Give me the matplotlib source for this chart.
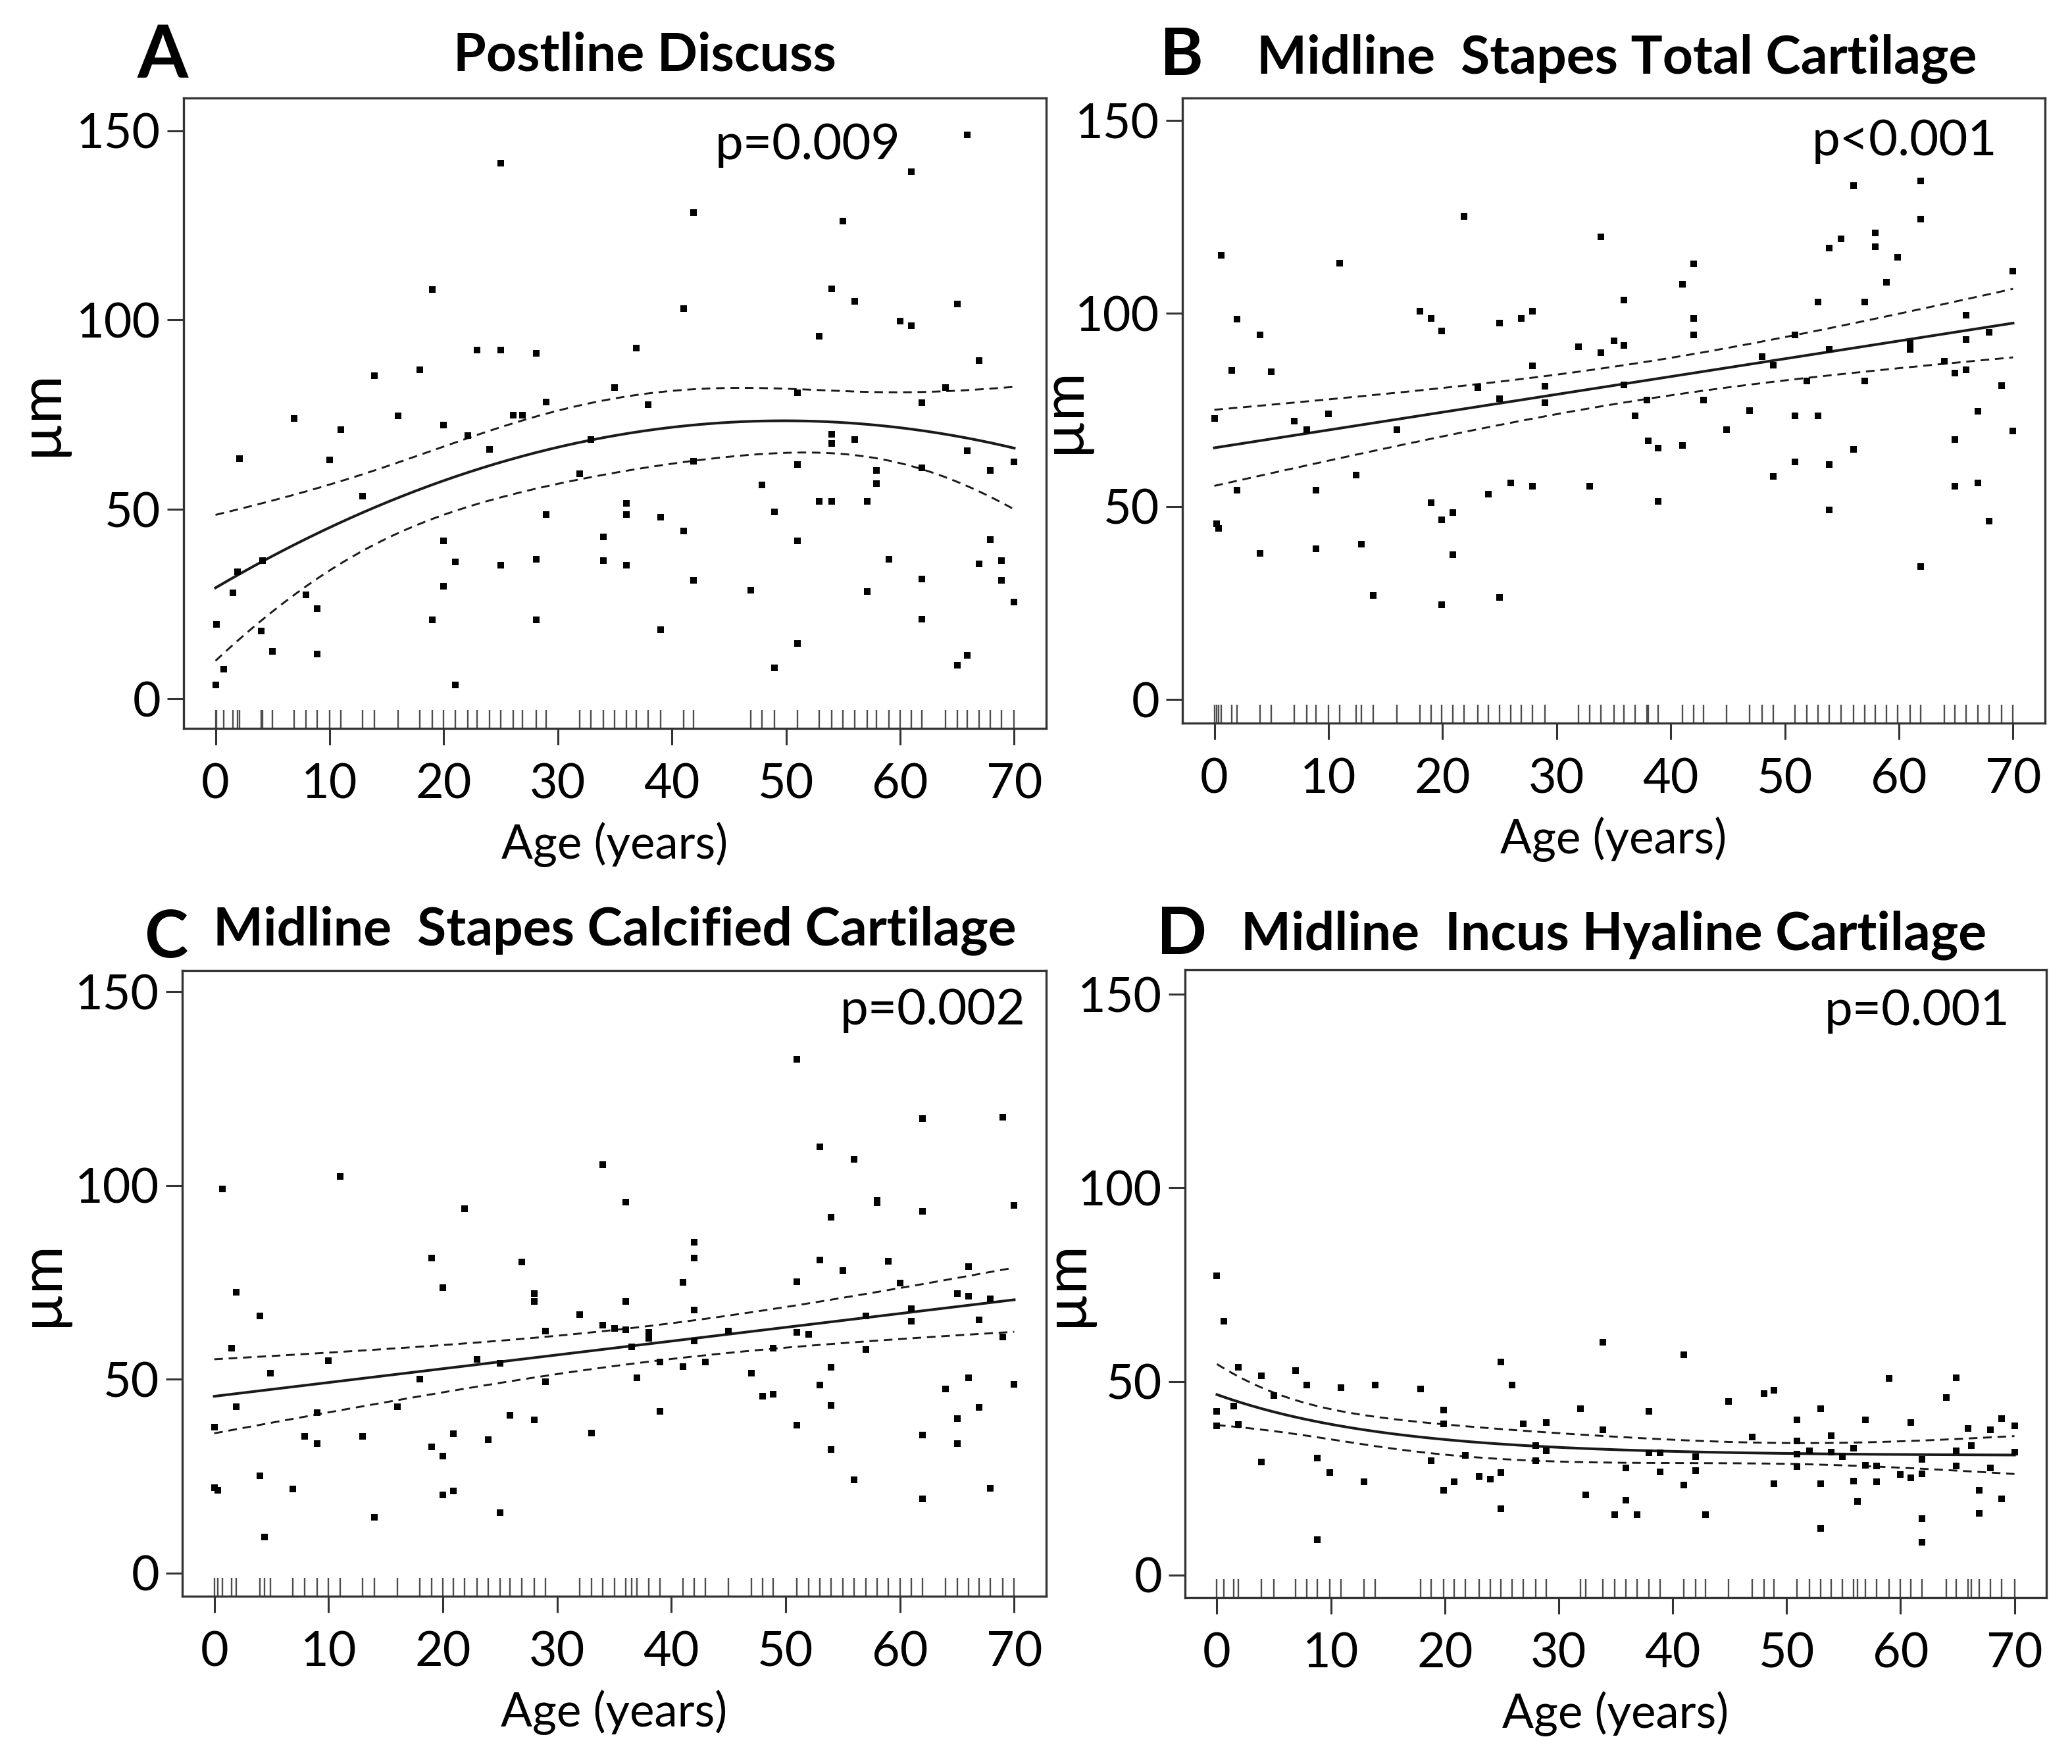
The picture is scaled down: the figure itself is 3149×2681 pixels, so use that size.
import numpy as np
import matplotlib.pyplot as plt
from matplotlib.transforms import blended_transform_factory

# (age in years, thickness in um)
pts_a = [(0.1, 19.6), (0, 3.7), (0.7, 7.9), (1.5, 28), (1.9, 33.5), (2.1, 63.5), (4.1, 36.5), (4, 17.9), (5, 12.6), (6.9, 74),
         (7.9, 27.5), (8.9, 23.8), (8.9, 11.9), (10, 63), (11, 71), (12.9, 53.6), (13.9, 85.3), (16, 74.7), (17.9, 86.8), (19, 108),
         (19, 20.8), (20, 72.2), (20, 41.7), (20, 29.8), (21, 36.2), (21, 3.7), (22.1, 69.5), (22.9, 92), (24, 65.9), (25, 92),
         (25, 35.3), (25, 141.4), (26.1, 74.9), (26.9, 74.9), (28.1, 91.2), (28.1, 36.8), (28.1, 20.8), (29, 78.4), (29, 48.7), (31.9, 59.5),
         (32.9, 68.5), (34, 42.7), (34, 36.5), (35, 82.1), (36, 51.6), (36, 48.7), (36, 35.3), (36.9, 92.6), (37.9, 77.7), (39, 47.9),
         (39, 18.2), (41, 103), (41, 44.3), (41.9, 128.4), (41.9, 62.8), (41.9, 31.3), (46.9, 28.7), (47.9, 56.5), (49, 49.4), (49, 8.2),
         (51, 80.8), (51, 61.8), (51, 41.7), (51, 14.6), (52.9, 95.7), (52.9, 52.1), (54, 108.2), (54, 69.9), (54, 67.4), (54, 52.1),
         (55, 126.2), (56, 104.9), (56, 68.5), (57.1, 52.1), (57.1, 28.3), (57.9, 60.3), (57.9, 56.8), (59, 36.8), (60, 99.7), (61, 98.5),
         (61, 139.1), (61.9, 78.1), (61.9, 61), (61.9, 31.7), (61.9, 21.1), (64, 82.1), (65, 104.2), (65, 8.9), (65.9, 148.8), (65.9, 65.5),
         (65.9, 11.5), (66.9, 89.3), (66.9, 35.7), (67.9, 60.3), (67.9, 42.1), (68.9, 36.5), (68.9, 31.3), (70, 62.5), (70, 25.6)]

pts_b = [(0, 72.8), (0.2, 45.6), (0.35, 44.4), (0.6, 115), (1.5, 85.2), (2, 98.6), (2, 54.2), (4, 94.5), (4, 37.9), (5, 84.9),
         (7, 72.1), (8.1, 69.9), (8.9, 54.3), (8.9, 39), (10, 74), (11, 113.1), (12.4, 58.2), (12.9, 40.3), (13.9, 26.9), (16, 69.9),
         (18, 100.5), (19, 98.7), (19, 51), (19.9, 95.4), (19.9, 46.6), (19.9, 24.5), (20.9, 48.5), (20.9, 37.6), (21.9, 125.2), (23.1, 80.8),
         (24, 53.2), (25, 97.6), (25, 77.9), (25, 26.5), (26, 56.1), (26.9, 98.7), (27.9, 100.5), (27.9, 86.4), (27.9, 55.3), (29, 81.1),
         (29, 76.9), (31.9, 91.3), (32.9, 55.2), (33.9, 119.8), (33.9, 89.8), (35, 92.9), (35.9, 91.7), (35.9, 103.4), (35.9, 81.5), (36.9, 73.5),
         (37.9, 77.5), (38, 67), (38.9, 65.2), (38.9, 51.3), (41, 107.5), (41, 65.8), (42, 112.9), (42, 98.7), (42, 94.4), (42.9, 77.5),
         (44.9, 69.9), (46.9, 74.9), (48, 88.8), (49, 86.6), (49, 57.8), (50.9, 94.4), (50.9, 73.5), (50.9, 61.5), (51.9, 82.6), (52.9, 103),
         (52.9, 73.5), (53.9, 116.9), (53.9, 90.7), (53.9, 60.9), (53.9, 49.1), (54.9, 119.3), (56, 133.2), (56, 64.8), (57, 103), (57, 82.6),
         (57.9, 120.9), (57.9, 117.2), (58.9, 108.1), (59.9, 114.6), (61, 92.2), (61, 90.7), (61.9, 134.4), (61.9, 124.5), (61.9, 34.5), (64, 87.7),
         (64.9, 84.5), (64.9, 67.3), (64.9, 55.2), (65.9, 99.5), (65.9, 93.2), (65.9, 85.5), (66.9, 74.6), (66.9, 56.1), (67.9, 95.1), (67.9, 46.3),
         (69, 81.4), (70, 111), (70, 69.6)]

pts_c = [(0, 37.6), (0, 22.1), (0.3, 21.4), (0.7, 99.1), (1.5, 58), (1.9, 72.5), (1.9, 42.9), (4, 66.4), (4, 25), (4.4, 9.3),
         (4.9, 51.5), (6.9, 21.7), (7.9, 35.2), (9, 41.3), (9, 33.4), (10, 54.8), (11, 102.3), (13, 35.2), (14, 14.4), (16, 42.9),
         (18, 50), (19, 81.3), (19, 32.6), (20, 73.7), (20, 30.1), (20, 20.2), (20.9, 35.9), (20.9, 21.1), (21.9, 94), (23, 55.1),
         (24, 34.4), (25, 54.1), (25, 15.6), (25.9, 40.7), (26.9, 80.2), (28, 72.2), (28, 70.1), (28, 39.5), (29, 62.5), (29, 49.4),
         (32, 66.7), (33, 36.2), (34, 105.4), (34, 64), (35, 63.1), (36, 95.8), (36, 70.1), (36, 62.8), (37, 50.4), (36.5, 58.3),
         (38, 62.1), (38, 60.6), (39, 54.4), (39, 41.7), (41, 75), (41, 53.3), (42, 85.3), (42, 81.3), (42, 67.9), (42, 59.9),
         (43, 54.4), (45, 62.5), (47, 51.5), (48, 45.6), (48.9, 58.1), (48.9, 46.1), (51, 132.6), (51, 75.1), (51, 62.1), (51, 38.1),
         (52, 61.6), (53, 110), (53, 80.7), (53, 48.5), (54, 91.9), (54, 53.1), (54, 43.2), (54, 31.8), (55, 78.1), (56, 106.7),
         (56, 24), (57, 57.7), (57, 66.4), (58, 96.2), (58, 95.5), (59, 80.5), (60, 74.9), (61, 68.2), (61, 65), (62, 117.3),
         (62, 93.3), (62, 35.6), (62, 19.2), (64, 47.5), (65, 72.2), (65, 39.8), (65, 33.4), (66, 79.1), (66, 71.5), (66, 50.4),
         (66.9, 65.4), (66.9, 42.7), (67.9, 70.8), (67.9, 21.8), (69, 117.6), (69, 60.9), (70, 94.8), (70, 48.7)]

pts_d = [(0, 77.3), (0, 42.3), (0, 38.6), (0.6, 65.6), (1.5, 43.7), (1.9, 53.6), (1.9, 38.9), (3.9, 51.5), (3.9, 29.2), (5, 46.4),
         (6.9, 52.8), (7.9, 49.1), (8.8, 30.2), (8.8, 9.2), (9.9, 26.5), (10.9, 48.4), (12.9, 24.1), (13.9, 49.1), (17.9, 48.1), (18.8, 29.6),
         (19.9, 42.7), (19.9, 39.1), (19.9, 21.9), (20.8, 24.1), (21.8, 30.9), (23, 25.5), (24, 24.8), (24.9, 55.1), (24.9, 26.5), (24.9, 17.2),
         (25.9, 49.1), (26.9, 39.1), (28, 33.5), (28, 29.6), (28.9, 39.4), (28.9, 32.1), (31.9, 43), (32.4, 20.7), (33.9, 60.2), (33.9, 37.6),
         (34.9, 15.6), (35.9, 27.7), (35.9, 19.4), (36.9, 15.6), (37.9, 42.3), (37.9, 31.6), (38.9, 31.6), (38.9, 26.7), (41, 56.9), (41, 23.3),
         (42, 30.6), (42, 27), (42.9, 15.6), (44.9, 44.8), (47, 35.7), (48, 46.9), (48.9, 47.7), (48.9, 23.6), (50.9, 40.1), (50.9, 34.7),
         (50.9, 31.3), (50.9, 28), (52, 32.1), (53, 43), (53, 23.6), (53, 12), (53.9, 36), (53.9, 31.8), (54.9, 30.6), (55.9, 32.8),
         (55.9, 24.3), (56.2, 19), (56.9, 40.1), (56.9, 28.4), (57.9, 28.1), (57.9, 24.1), (59, 50.7), (60, 25.9), (60.9, 39.4), (60.9, 25.1),
         (61.9, 29.9), (61.9, 26.2), (61.9, 14.6), (61.9, 8.5), (64, 45.9), (64.9, 51), (64.9, 32.1), (64.9, 28.1), (65.9, 37.9), (66.2, 33.5),
         (66.9, 21.9), (66.9, 16), (67.9, 37.6), (67.9, 27.7), (68.9, 40.4), (68.9, 19.7), (70, 38.6), (70, 31.8)]

letters = ["A", "B", "C", "D"]
titles = ["Postline Discuss", "Midline  Stapes Total Cartilage",
          "Midline  Stapes Calcified Cartilage", "Midline  Incus Hyaline Cartilage"]
p_texts = ["p=0.009", "p<0.001", "p=0.002", "p=0.001"]

# regression model per panel and its coefficients
fit_kinds = ["quad", "lin", "lin", "expo"]
fit_coefs = [[29.3, 1.770, -0.01776],
             [65.2, 0.4614],
             [45.6, 0.356],
             [30.85, 0.0, 15.76]]

xticks = [0, 10, 20, 30, 40, 50, 60, 70]
yticks = [0, 50, 100, 150]

plt.rcParams['font.family'] = ['Lato', 'DejaVu Sans']


def basis(kind, x):
    x = np.asarray(x, float)
    one = np.ones_like(x)
    if kind == "lin":
        return np.column_stack([one, x])
    if kind == "quad":
        return np.column_stack([one, x, x ** 2])
    return np.column_stack([one, x, np.exp(-x / 15.0)])


def fit_band(kind, beta, x, y, grid):
    # fitted curve with a 95% confidence band of the mean
    beta = np.asarray(beta, float)
    X = basis(kind, x)
    resid = y - X @ beta
    s2 = resid @ resid / (len(y) - X.shape[1])
    cov = s2 * np.linalg.inv(X.T @ X)
    G = basis(kind, grid)
    fit = G @ beta
    se = np.sqrt(np.einsum('ij,jk,ik->i', G, cov, G))
    return fit, fit - 1.98 * se, fit + 1.98 * se


W, H = 3149, 2681
fig = plt.figure(figsize=(W / 100, H / 100), dpi=100)

# axes boxes in pixels: left, right, top, bottom
boxes = [(279, 1590, 149, 1107), (1797, 3108, 149, 1099),
         (277, 1590, 1475, 2426), (1801, 3110, 1474, 2428)]
ylims = [(-7.8, 158.6), (-6.1, 155.8), (-6.0, 155.5), (-5.8, 156.3)]
ylabel_pads = [10, -16, 8, -16]
p_pos = [(60.0, 142.5), (68.6, 141), (71.0, 141.6), (69.6, 142)]
letter_pos = [(209, 118), (1763, 114), (219, 1455), (1758, 1450)]
title_pos = [(689, 107), (1910, 111), (324, 1436), (1886, 1443)]

grid = np.linspace(0, 70, 300)

for i, pts in enumerate([pts_a, pts_b, pts_c, pts_d]):
    l, r, t, b = boxes[i]
    ax = fig.add_axes([l / W, 1 - b / H, (r - l) / W, (b - t) / H])
    arr = np.array(pts, float)
    age, um = arr[:, 0], arr[:, 1]

    ax.scatter(age, um, marker='s', s=46, color='black', linewidths=0, zorder=3)

    fit, lo, hi = fit_band(fit_kinds[i], fit_coefs[i], age, um, grid)
    ax.plot(grid, fit, color='#1a1a1a', lw=2.9, zorder=2)
    ax.plot(grid, lo, color='#1a1a1a', lw=2.1, ls=(0, (4.5, 3)), zorder=2)
    ax.plot(grid, hi, color='#1a1a1a', lw=2.1, ls=(0, (4.5, 3)), zorder=2)

    # rug of ages along the bottom
    trans = blended_transform_factory(ax.transData, ax.transAxes)
    ax.vlines(np.unique(age), 0, 0.029, transform=trans, color='#4d4d4d', lw=1.7)

    ax.set_xlim(-2.8, 72.8)
    ax.set_ylim(*ylims[i])
    ax.set_xticks(xticks)
    ax.set_yticks(yticks)
    ax.tick_params(axis='both', labelsize=53, length=18, width=2.2, color='#333333')
    ax.tick_params(axis='x', pad=20)
    ax.tick_params(axis='y', pad=7)
    for sp in ax.spines.values():
        sp.set_linewidth(2.4)
        sp.set_color('#333333')

    ax.set_xlabel("Age (years)", fontsize=51, labelpad=16)
    ax.set_ylabel("µm", fontsize=64, labelpad=ylabel_pads[i])

    ax.text(p_pos[i][0], p_pos[i][1], p_texts[i], fontsize=55,
            ha='right', va='baseline')

    lx, ly = letter_pos[i]
    fig.text(lx / W, 1 - ly / H, letters[i], fontsize=80 if i == 0 else 72,
             fontweight='bold', ha='left', va='baseline')
    tx, ty = title_pos[i]
    fig.text(tx / W, 1 - ty / H, titles[i], fontsize=58, fontweight='bold',
             ha='left', va='baseline')

fig.savefig("out.png", dpi=100)
